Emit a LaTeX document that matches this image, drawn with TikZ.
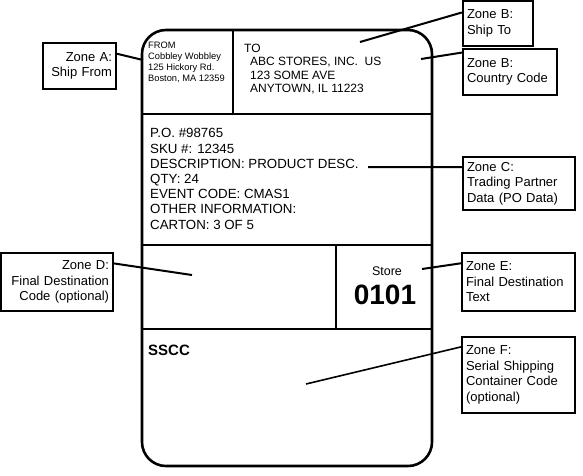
\documentclass[tikz,border=0pt]{standalone}
\usepackage{fontspec}
\setmainfont{Liberation Sans}
\usetikzlibrary{positioning}

\begin{document}
\begin{tikzpicture}[x=1pt,y=-1pt,
  zone/.style={draw,line width=2.2pt,inner xsep=4pt,inner ysep=0pt,font=\fontsize{13}{15.5}\selectfont},
  field/.style={inner sep=0pt,anchor=north west,align=left},
  lead/.style={line width=2pt}]
  \useasboundingbox (0,0) rectangle (583,475);
  % label outline and its fields
  \draw[line width=2.6pt,rounded corners=24pt] (142,30) rectangle (432,466);
  \draw[line width=2.4pt] (142,114) -- (432,114) (233,30) -- (233,114)
    (142,245) -- (432,245) (142,329) -- (432,329) (336,245) -- (336,329);
  \path (148,42) node[field,font=\fontsize{9.3}{11}\selectfont] (from) {FROM\\Cobbley Wobbley\\125 Hickory Rd.\\Boston, MA~12359}
    (244,43.5) node[field,font=\fontsize{12}{13.5}\selectfont] (to) {TO\\\hspace*{6pt}ABC STORES, INC.~~US\\\hspace*{6pt}123 SOME AVE\\\hspace*{6pt}ANYTOWN, IL 11223}
    (150,128.5) node[field,font=\fontsize{13.3}{15.2}\selectfont] (po) {P.O. \#98765\\SKU \#: 12345\\DESCRIPTION: PRODUCT DESC.\\QTY: 24\\EVENT CODE: CMAS1\\OTHER INFORMATION:\\CARTON: 3 OF 5}
    (387,271) node[inner sep=0pt,font=\fontsize{12.5}{14}\selectfont] (store) {Store}
    (385,295) node[inner sep=0pt,font=\fontsize{28}{30}\selectfont\bfseries] (num) {0101}
    (148,350) node[inner sep=0pt,anchor=west,font=\fontsize{15}{17}\selectfont\bfseries] (sscc) {SSCC};
  % zone call-outs
  \path (79.5,66) node[zone,minimum width=73pt,minimum height=46pt,text width=65pt,align=right] (zA) {Zone A:\\Ship From}
    (498,23.5) node[zone,minimum width=70pt,minimum height=45pt,text width=62pt,align=left] (zB) {Zone B:\\Ship To}
    (510,72) node[zone,minimum width=94pt,minimum height=46pt,text width=86pt,align=left] (zBc) {Zone B:\\Country Code}
    (519,183.5) node[zone,minimum width=112pt,minimum height=53pt,text width=104pt,align=left] (zC) {Zone C:\\Trading Partner\\Data (PO Data)}
    (57,282) node[zone,minimum width=112pt,minimum height=58pt,text width=104pt,align=right] (zD) {Zone D:\\Final Destination\\Code (optional)}
    (518.5,282) node[zone,minimum width=113pt,minimum height=58pt,text width=105pt,align=left] (zE) {Zone E:\\Final Destination\\Text}
    (518.5,375) node[zone,minimum width=113pt,minimum height=76pt,text width=105pt,align=left] (zF) {Zone F:\\Serial Shipping\\Container Code\\(optional)};
  \coordinate (cA) at (143,60);
  \coordinate (cB) at (360,42);
  \coordinate (cBc) at (421,59);
  \coordinate (cC) at (368,167);
  \coordinate (cD) at (192,275);
  \coordinate (cE) at (422,269);
  \coordinate (cF) at (306,384);
  \draw[lead] (zA.18) -- (cA);
  \draw[lead] (zB.163) -- (cB);
  \draw[lead] (zBc.158) -- (cBc);
  \draw[lead] (zC.164) -- (cC);
  \draw[lead] (zD.18) -- (cD);
  \draw[lead] (zE.162) -- (cE);
  \draw[lead,line width=1.6pt] (zF.154) -- (cF);
\end{tikzpicture}
\end{document}
